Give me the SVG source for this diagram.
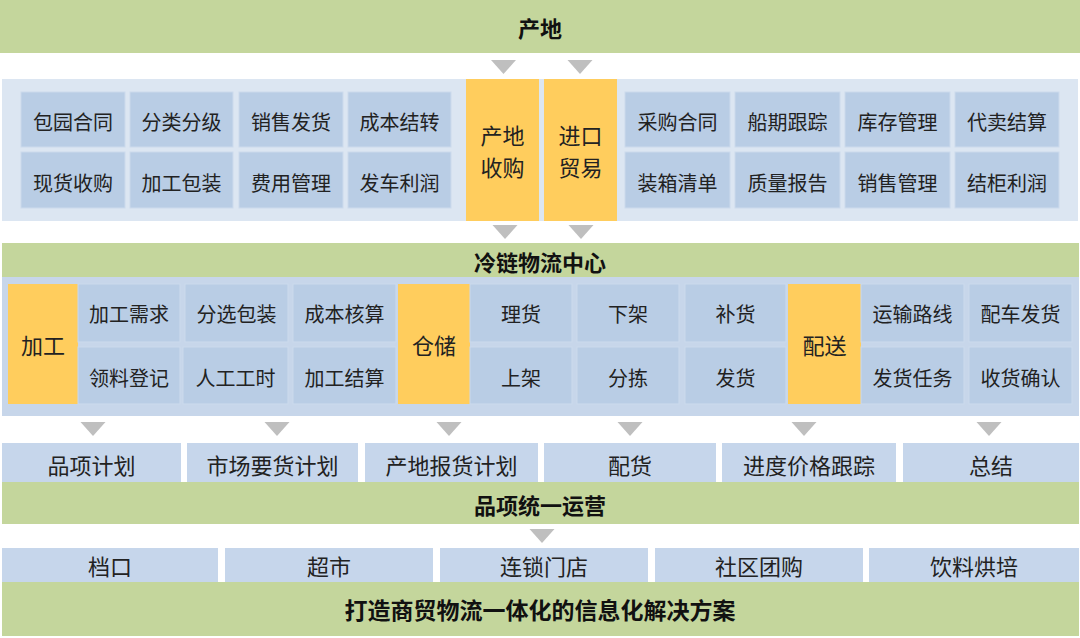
<svg xmlns="http://www.w3.org/2000/svg" xmlns:xlink="http://www.w3.org/1999/xlink" width="1080" height="638" viewBox="0 0 1080 638">
<defs>
<style>
.bar{fill:#C4D69C}
.panel1{fill:#DCE6F2}
.panel2{fill:#C7D6EA}
.cell{fill:#B9CDE5;stroke:#CCDAEC;stroke-width:1}
.cell2{fill:#C6D6EB}
.yel{fill:#FFCD5D}
.t{font-family:"Noto Sans CJK SC","Noto Sans",sans-serif;fill:#222;text-anchor:middle;dominant-baseline:central}
.s20{font-size:20px}
.s22{font-size:22px}
.b{font-size:22px;font-weight:bold;fill:#111}
.tri{fill:#BFBFBF}
</style>
<path id="tri" d="M-12.5,0 L12.5,0 L0,14 Z"/>
</defs>
<rect width="1080" height="638" fill="#FFFFFF"/>

<g id="title-chandi">
<rect class="bar" x="0" y="0" width="1080" height="53"/>
<text class="t b" x="540" y="27">产地</text>
</g>

<g id="top-panel">
<rect class="panel1" x="2" y="79" width="1076" height="142"/>
</g>
<g id="top-left-cells">
<rect class="cell" x="21" y="92" width="104" height="55"/><text class="t s20" x="73" y="121">包园合同</text>
<rect class="cell" x="130" y="92" width="103" height="55"/><text class="t s20" x="181.5" y="121">分类分级</text>
<rect class="cell" x="239" y="92" width="104" height="55"/><text class="t s20" x="291" y="121">销售发货</text>
<rect class="cell" x="348" y="92" width="103" height="55"/><text class="t s20" x="399.5" y="121">成本结转</text>
<rect class="cell" x="21" y="152" width="104" height="56"/><text class="t s20" x="73" y="182">现货收购</text>
<rect class="cell" x="130" y="152" width="103" height="56"/><text class="t s20" x="181.5" y="182">加工包装</text>
<rect class="cell" x="239" y="152" width="104" height="56"/><text class="t s20" x="291" y="182">费用管理</text>
<rect class="cell" x="348" y="152" width="103" height="56"/><text class="t s20" x="399.5" y="182">发车利润</text>
</g>
<g id="chandi-shougou">
<rect class="yel" x="466" y="79" width="73" height="142"/>
<text class="t s22" x="502.5" y="134">产地</text>
<text class="t s22" x="502.5" y="166">收购</text>
</g>
<g id="jinkou-maoyi">
<rect class="yel" x="544" y="79" width="73" height="142"/>
<text class="t s22" x="580.5" y="134">进口</text>
<text class="t s22" x="580.5" y="166">贸易</text>
</g>
<g id="top-right-cells">
<rect class="cell" x="625" y="92" width="105" height="55"/><text class="t s20" x="677.5" y="121">采购合同</text>
<rect class="cell" x="735" y="92" width="105" height="55"/><text class="t s20" x="787.5" y="121">船期跟踪</text>
<rect class="cell" x="845" y="92" width="105" height="55"/><text class="t s20" x="897.5" y="121">库存管理</text>
<rect class="cell" x="955" y="92" width="104" height="55"/><text class="t s20" x="1007" y="121">代卖结算</text>
<rect class="cell" x="625" y="152" width="105" height="56"/><text class="t s20" x="677.5" y="182">装箱清单</text>
<rect class="cell" x="735" y="152" width="105" height="56"/><text class="t s20" x="787.5" y="182">质量报告</text>
<rect class="cell" x="845" y="152" width="105" height="56"/><text class="t s20" x="897.5" y="182">销售管理</text>
<rect class="cell" x="955" y="152" width="104" height="56"/><text class="t s20" x="1007" y="182">结柜利润</text>
</g>

<g id="title-lenglian">
<rect class="bar" x="2" y="243" width="1077" height="34"/>
<text class="t b" x="540" y="261">冷链物流中心</text>
</g>
<g id="mid-panel">
<rect class="panel2" x="2" y="277" width="1077" height="139"/>
</g>
<g id="jiagong">
<rect class="yel" x="8" y="284" width="70" height="120"/>
<text class="t s22" x="43" y="344">加工</text>
<rect class="cell" x="78" y="284" width="102" height="58"/><text class="t s20" x="129" y="313">加工需求</text>
<rect class="cell" x="185" y="284" width="103" height="58"/><text class="t s20" x="236.5" y="313">分选包装</text>
<rect class="cell" x="293" y="284" width="103" height="58"/><text class="t s20" x="344.5" y="313">成本核算</text>
<rect class="cell" x="78" y="347" width="102" height="57"/><text class="t s20" x="129" y="377">领料登记</text>
<rect class="cell" x="183" y="347" width="105" height="57"/><text class="t s20" x="235.5" y="377">人工工时</text>
<rect class="cell" x="293" y="347" width="103" height="57"/><text class="t s20" x="344.5" y="377">加工结算</text>
</g>
<g id="cangchu">
<rect class="yel" x="398" y="284" width="72" height="120"/>
<text class="t s22" x="434" y="344">仓储</text>
<rect class="cell" x="470" y="284" width="102" height="58"/><text class="t s20" x="521" y="313">理货</text>
<rect class="cell" x="577" y="284" width="102" height="58"/><text class="t s20" x="628" y="313">下架</text>
<rect class="cell" x="685" y="284" width="101" height="58"/><text class="t s20" x="735.5" y="313">补货</text>
<rect class="cell" x="470" y="347" width="102" height="57"/><text class="t s20" x="521" y="377">上架</text>
<rect class="cell" x="577" y="347" width="102" height="57"/><text class="t s20" x="628" y="377">分拣</text>
<rect class="cell" x="685" y="347" width="101" height="57"/><text class="t s20" x="735.5" y="377">发货</text>
</g>
<g id="peisong">
<rect class="yel" x="788" y="284" width="73" height="120"/>
<text class="t s22" x="824.5" y="344">配送</text>
<rect class="cell" x="861" y="284" width="103" height="58"/><text class="t s20" x="912.5" y="313">运输路线</text>
<rect class="cell" x="969" y="284" width="103" height="58"/><text class="t s20" x="1020.5" y="313">配车发货</text>
<rect class="cell" x="861" y="347" width="103" height="57"/><text class="t s20" x="912.5" y="377">发货任务</text>
<rect class="cell" x="969" y="347" width="103" height="57"/><text class="t s20" x="1020.5" y="377">收货确认</text>
</g>

<g id="plan-row">
<rect class="cell2" x="2" y="443" width="179" height="39"/><text class="t s22" x="91.5" y="464">品项计划</text>
<rect class="cell2" x="187" y="443" width="171" height="39"/><text class="t s22" x="272.5" y="464">市场要货计划</text>
<rect class="cell2" x="365" y="443" width="173" height="39"/><text class="t s22" x="451.5" y="464">产地报货计划</text>
<rect class="cell2" x="544" y="443" width="172" height="39"/><text class="t s22" x="630" y="464">配货</text>
<rect class="cell2" x="722" y="443" width="174" height="39"/><text class="t s22" x="809" y="464">进度价格跟踪</text>
<rect class="cell2" x="903" y="443" width="176" height="39"/><text class="t s22" x="991" y="464">总结</text>
</g>
<g id="title-yunying">
<rect class="bar" x="2" y="482" width="1077" height="42"/>
<text class="t b" x="540" y="504">品项统一运营</text>
</g>

<g id="channel-row">
<rect class="cell2" x="2" y="548" width="216" height="34"/><text class="t s22" x="110" y="565">档口</text>
<rect class="cell2" x="225" y="548" width="208" height="34"/><text class="t s22" x="329" y="565">超市</text>
<rect class="cell2" x="440" y="548" width="208" height="34"/><text class="t s22" x="544" y="565">连锁门店</text>
<rect class="cell2" x="655" y="548" width="208" height="34"/><text class="t s22" x="759" y="565">社区团购</text>
<rect class="cell2" x="869" y="548" width="210" height="34"/><text class="t s22" x="974" y="565">饮料烘培</text>
</g>
<g id="title-solution">
<rect class="bar" x="2" y="582" width="1077" height="54"/>
<text class="t b" x="540" y="609" style="font-size:23px">打造商贸物流一体化的信息化解决方案</text>
</g>

<g id="connectors" class="tri">
<use xlink:href="#tri" x="503.5" y="60"/>
<use xlink:href="#tri" x="580" y="60"/>
<use xlink:href="#tri" x="505" y="225"/>
<use xlink:href="#tri" x="581" y="225"/>
<use xlink:href="#tri" x="93" y="422"/>
<use xlink:href="#tri" x="277" y="422"/>
<use xlink:href="#tri" x="449" y="422"/>
<use xlink:href="#tri" x="630" y="422"/>
<use xlink:href="#tri" x="804" y="422"/>
<use xlink:href="#tri" x="989" y="422"/>
<use xlink:href="#tri" x="542" y="529"/>
</g>
</svg>
